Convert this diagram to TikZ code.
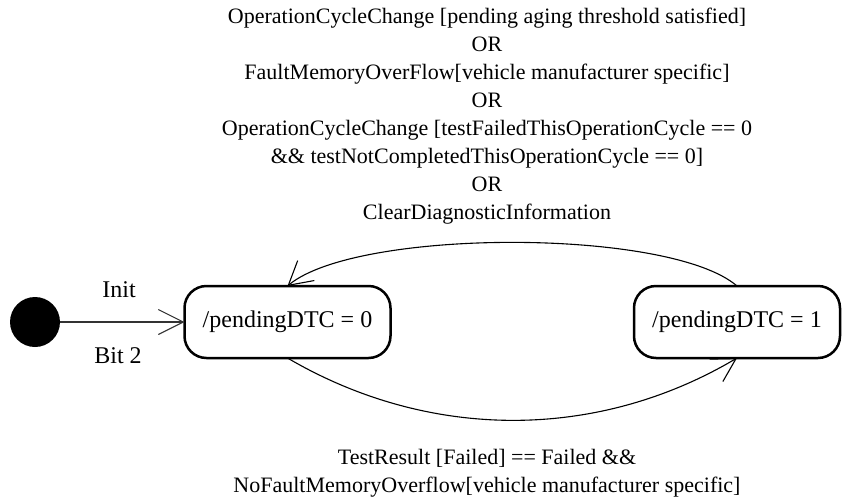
\documentclass[tikz,border=0pt]{standalone}
\usepackage{fontspec}
\setmainfont{Liberation Serif}
\usetikzlibrary{arrows.meta}
\begin{document}
\begin{tikzpicture}[x=1pt,y=-1pt,
  every node/.style={font=\fontsize{24}{28.7}\selectfont, inner sep=0pt, outer sep=0pt},
  statebox/.style={draw, line width=2.5pt, rounded corners=22pt, minimum width=206pt, minimum height=72pt},
  initdot/.style={circle, fill=black, minimum size=50pt},
  trans/.style={line width=1.1pt, -{Straight Barb[length=23pt,width=26pt,line width=1.1pt]}},
  lbl/.style={align=center, font=\fontsize{22}{28}\selectfont}
]
\useasboundingbox (0,0) rectangle (847,499);
\node[initdot] (init) at (35,322) {};
\node[statebox] (s0) at (287.5,322) {/pendingDTC = 0};
\node[statebox] (s1) at (737,322) {/pendingDTC = 1};
\draw[line width=1.5pt, draw=black!80, -{Straight Barb[length=25pt,width=25pt,line width=1.1pt]}] (init) -- (s0.west);
\node (linit) at (119,290) {Init};
\node (lbit) at (118,356) {Bit 2};
\draw[trans] (s1.north) .. controls (670,228) and (357,228) .. (s0.north);
\draw[trans] (s0.south) .. controls (429,441) and (597,441) .. (s1.south);
\node[lbl] (top) at (487,116) {OperationCycleChange [pending aging threshold satisfied]\\OR\\FaultMemoryOverFlow[vehicle manufacturer specific]\\OR\\OperationCycleChange [testFailedThisOperationCycle == 0\\\&\& testNotCompletedThisOperationCycle == 0]\\OR\\ClearDiagnosticInformation};
\node[lbl] (bottom) at (487,473) {TestResult [Failed] == Failed \&\&\\NoFaultMemoryOverflow[vehicle manufacturer specific]};
\end{tikzpicture}
\end{document}
